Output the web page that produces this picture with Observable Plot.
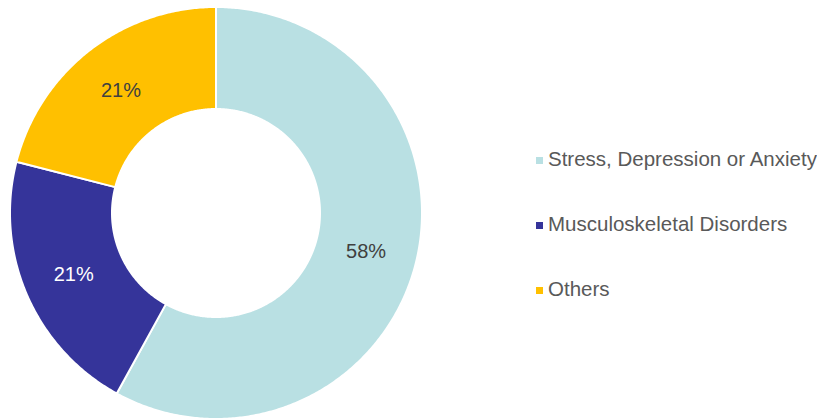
<!DOCTYPE html>
<html><head><meta charset="utf-8">
<script src="https://cdn.jsdelivr.net/npm/d3@7"></script>
<script src="https://cdn.jsdelivr.net/npm/@observablehq/plot@0.6"></script>
<style>
body{margin:0;background:#fff;}
#wrap{position:relative;width:822px;height:418px;overflow:hidden;}
#wrap > svg{position:absolute;left:0;top:0;}
#legend{position:absolute;left:536px;top:126px;}
.leg-swatch{height:65px;padding-bottom:0 !important;display:flex;align-items:center;}
.leg-swatch svg{margin-right:5px !important;position:relative;top:2px;}
</style></head><body><div id="wrap"><div id="legend"></div></div>
<script>
const categories = ["Stress, Depression or Anxiety", "Musculoskeletal Disorders", "Others"];
const values = [58, 21, 21];
const labels = ["58%", "21%", "21%"];
const colors = ["#B9E0E3", "#35349A", "#FFC000"];
const lightLabel = [false, true, false];

const innerRatio = 104 / 206;
const labelRatio = 155 / 206;

const arcs = d3.pie().sort(null).value(d => d)(values);
const ring = [];
const labData = [];
arcs.forEach((a, i) => {
  const n = Math.max(2, Math.ceil((a.endAngle - a.startAngle) / (Math.PI / 360)));
  const pts = [];
  for (let k = 0; k <= n; k++) {
    const t = a.startAngle + (a.endAngle - a.startAngle) * k / n;
    pts.push({name: categories[i], x: Math.sin(t), y: Math.cos(t)});
  }
  for (let k = n; k >= 0; k--) {
    const t = a.startAngle + (a.endAngle - a.startAngle) * k / n;
    pts.push({name: categories[i], x: innerRatio * Math.sin(t), y: innerRatio * Math.cos(t)});
  }
  pts.push({...pts[0]});
  ring.push(...pts);
  const m = (a.startAngle + a.endAngle) / 2;
  labData.push({text: labels[i], x: labelRatio * Math.sin(m), y: labelRatio * Math.cos(m), light: lightLabel[i]});
});

const plot = Plot.plot({
  width: 822,
  height: 418,
  margin: 0,
  style: {fontFamily: "'Liberation Sans', Arial, sans-serif", background: "white"},
  x: {domain: [-1, 1], range: [9.5, 421.5], axis: null},
  y: {domain: [-1, 1], range: [418.5, 6.5], axis: null},
  color: {domain: categories, range: colors},
  marks: [
    Plot.line(ring, {x: "x", y: "y", z: "name", fill: "name", stroke: "white", strokeWidth: 2, curve: "linear"}),
    Plot.text(labData, {filter: d => !d.light, x: "x", y: "y", text: "text", fill: "#404040", fontSize: 20}),
    Plot.text(labData, {filter: d => d.light, x: "x", y: "y", text: "text", fill: "#ffffff", fontSize: 20})
  ]
});
document.getElementById("wrap").prepend(plot);

const leg = plot.legend("color", {
  legend: "swatches",
  columns: 1,
  swatchSize: 7,
  className: "leg",
  style: {fontSize: "20.5px", fontFamily: "'Liberation Sans', Arial, sans-serif", color: "#595959", margin: 0}
});
document.getElementById("legend").appendChild(leg);
</script>
</body></html>
